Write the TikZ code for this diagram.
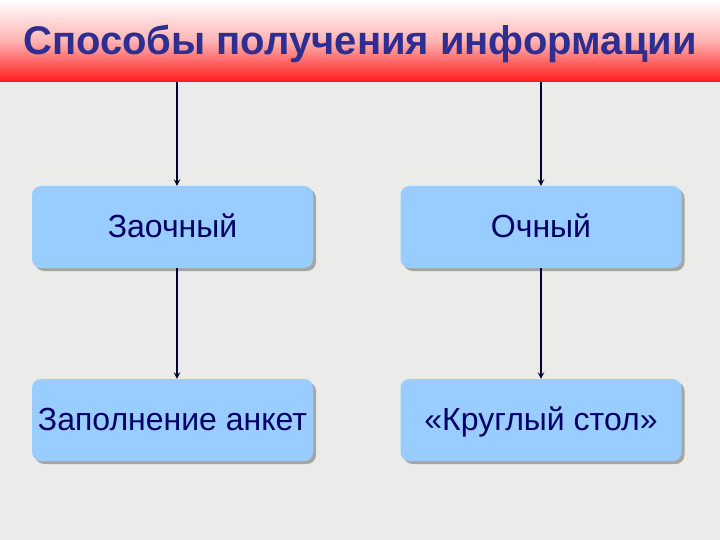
\documentclass[tikz,border=0pt]{standalone}
\usepackage{fontspec}
\setmainfont{Liberation Sans}
\usetikzlibrary{shadows}
\definecolor{boxblue}{HTML}{99CCFF}
\definecolor{txtnavy}{HTML}{000066}
\definecolor{titleblue}{HTML}{2E2E90}
\definecolor{arrnavy}{HTML}{000033}
\definecolor{granite}{HTML}{EBEBE9}
\definecolor{barred}{HTML}{FF1A1A}

\begin{document}
\begin{tikzpicture}[x=1pt, y=-1pt,
  wayBox/.style={fill=boxblue, rounded corners=9pt, minimum width=281pt,
    minimum height=82pt, inner sep=0pt, text=txtnavy,
    text height=22pt, text depth=2pt,
    font=\fontsize{32}{34}\selectfont,
    drop shadow={shadow xshift=3pt, shadow yshift=-3pt, fill=gray!70, opacity=1}},
  downArr/.style={-stealth, line width=1.8pt, draw=arrnavy}]
  \useasboundingbox (0,0) rectangle (720,540);
  % background and title bar
  \fill[granite] (0,82) rectangle (720,540);
  \shade[top color=white, bottom color=barred, middle color=red!30] (0,0) rectangle (720,82);
  \node[anchor=base, text=titleblue, font=\bfseries\fontsize{40}{42}\selectfont] (title) at (360,55) {Способы получения информации};

  % boxes
  \node[wayBox] (zaoch) at (172.5,227) {Заочный};
  \node[wayBox] (och) at (541,227) {Очный};
  \node[wayBox] (anket) at (172.5,420) {Заполнение анкет};
  \node[wayBox] (stol) at (541,420) {«Круглый стол»};

  % arrows
  \coordinate (barL) at (177,82);
  \coordinate (barR) at (541,82);
  \draw[downArr] (barL) -- (barL |- zaoch.north);
  \draw[downArr] (barR) -- (och.north);
  \draw[downArr] ([xshift=4.5pt]zaoch.south) -- ([xshift=4.5pt]anket.north);
  \draw[downArr] (och.south) -- (stol.north);
\end{tikzpicture}
\end{document}
